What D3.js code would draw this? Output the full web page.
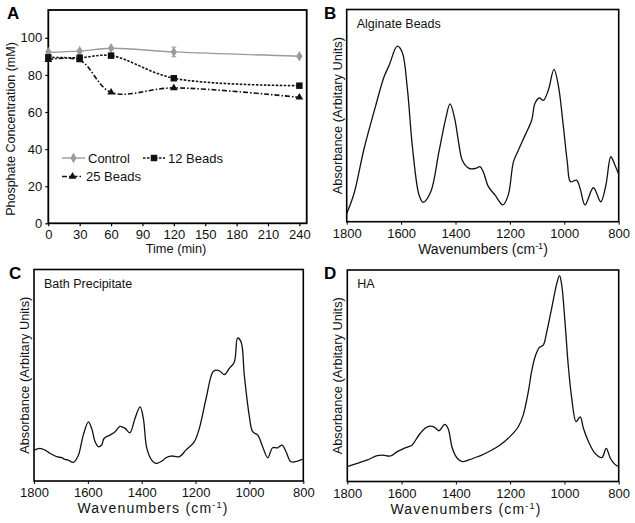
<!DOCTYPE html>
<html><head><meta charset="utf-8">
<script src="https://cdn.jsdelivr.net/npm/d3@7"></script>
<style>
body{margin:0;background:#fff;}
svg{display:block;font-family:"Liberation Sans",Arial,sans-serif;}
</style></head>
<body><svg id="c" width="635" height="523"></svg>
<script>
// ---------- Panel A data ----------
const timeMin = [0, 30, 60, 120, 240];
const controlConc = [92.2, 92.8, 94.4, 92.4, 90.1];
const controlErr = [1.0, 0.6, 0.5, 2.6, 0.5];
const beads12Conc = [89.5, 89.3, 90.4, 78.2, 74.2];
const beads25Conc = [88.2, 88.0, 70.6, 73.0, 67.9];
const timeTicks = [0, 30, 60, 90, 120, 150, 180, 210, 240];
const concTicks = [0, 20, 40, 60, 80, 100];
const seriesNames = ["Control", "12 Beads", "25 Beads"];

// ---------- Spectra (wavenumber, relative absorbance 0-100) ----------
const wnTicks = [1800, 1600, 1400, 1200, 1000, 800];
const alginateWn = [1800,1773,1736,1693,1663,1644,1614,1596,1577,1559,1534,1519,1491,1461,1436,1420,1403,1387,1375,1350,1326,1310,1298,1279,1255,1226,1206,1187,1169,1144,1120,1108,1092,1077,1059,1038,1022,1004,989,977,955,942,924,893,866,847,829,814,800];
const alginateAbs = [3.9,13.3,34.5,54.9,68.2,73.7,82.7,79.9,62.7,36.1,12.6,9.1,14.1,32.9,48.6,55.5,48.6,36.1,29.0,25.1,25.1,25.9,23.5,16.5,12.6,7.9,12.6,28.2,33.7,40.8,47.8,55.7,58.3,57.2,61.9,71.8,64.3,45.5,28.2,18.8,19.6,15.7,7.9,16.0,9.4,17.3,30.6,26.7,22.3];
const bathWn = [1800,1778,1759,1741,1716,1697,1685,1673,1654,1636,1617,1598,1586,1573,1561,1549,1540,1518,1499,1481,1462,1444,1425,1406,1394,1381,1363,1347,1320,1310,1291,1260,1236,1205,1186,1161,1136,1124,1109,1093,1075,1056,1044,1031,1019,1001,988,969,951,932,914,895,879,864,846,821,802];
const bathAbs = [14.6,15.4,14.6,13.1,11.5,11.0,10.2,9.9,8.8,11.9,21.7,28.0,24.9,18.5,16.2,17.0,20.1,21.7,23.3,25.8,24.9,22.8,29.6,35.0,29.6,15.4,9.9,8.3,9.9,11.0,11.8,11.5,14.6,18.5,24.9,39.0,51.6,52.4,51.9,50.3,53.2,56.3,67.6,65.7,50.0,31.1,23.3,21.7,16.2,11.0,15.7,15.7,17.0,13.8,9.1,9.4,10.4];
const haWn = [1800,1763,1726,1690,1671,1640,1616,1585,1561,1536,1511,1495,1478,1462,1441,1429,1413,1395,1376,1352,1321,1311,1274,1237,1201,1170,1152,1133,1121,1108,1093,1078,1065,1047,1028,1018,1010,998,986,973,957,942,930,911,887,862,846,831,814,800];
const haAbs = [7.0,8.6,10.2,12.2,12.5,12.1,14.1,16.0,17.3,22.0,25.4,26.2,25.6,24.0,27.0,25.2,15.7,11.0,9.4,10.2,11.7,12.1,14.4,17.3,21.2,25.9,31.4,42.5,51.9,59.0,63.3,64.5,70.8,81.9,93.7,97.3,92.9,75.6,55.1,39.3,28.3,30.6,25.2,18.8,13.3,11.3,15.7,11.0,8.1,7.0];

const svg = d3.select("#c");
const FONT = '"Liberation Sans",Arial,sans-serif';

// ================= Panel A =================
const xA = d3.scaleLinear().domain([0, 247]).range([48.3, 306.7]);
const yA = d3.scaleLinear().domain([0, 115]).range([223.3, 10]);
const gA = svg.append("g");

gA.append("g").attr("transform", `translate(0,${yA(0)})`)
  .call(d3.axisBottom(xA).tickValues(timeTicks).tickSize(3).tickPadding(3).tickFormat(d3.format("d")))
  .call(g => g.select(".domain").remove())
  .call(g => g.selectAll("text").attr("font-size", 13).attr("font-family", FONT).attr("fill", "#111"))
  .call(g => g.selectAll("line").attr("stroke", "#000").attr("stroke-width", 1.2));
gA.append("g").attr("transform", `translate(${xA(0)},0)`)
  .call(d3.axisLeft(yA).tickValues(concTicks).tickSize(3).tickPadding(3))
  .call(g => g.select(".domain").remove())
  .call(g => g.selectAll("text").attr("font-size", 13).attr("font-family", FONT).attr("fill", "#111"))
  .call(g => g.selectAll("line").attr("stroke", "#000").attr("stroke-width", 1.2));
gA.append("rect").attr("x", xA(0)).attr("y", yA(115)).attr("width", xA(247) - xA(0)).attr("height", yA(0) - yA(115))
  .attr("fill", "none").attr("stroke", "#000").attr("stroke-width", 1.8);

const lineA = d3.line().x(d => xA(d[0])).y(d => yA(d[1])).curve(d3.curveCatmullRom.alpha(0.5));
const zipA = arr => timeMin.map((t, i) => [t, arr[i]]);

// error bars (control)
gA.append("g").selectAll("g").data(zipA(controlConc)).join("g").each(function(d, i) {
  const g = d3.select(this), e = controlErr[i], x = xA(d[0]);
  g.append("line").attr("x1", x).attr("x2", x).attr("y1", yA(d[1] - e)).attr("y2", yA(d[1] + e)).attr("stroke", "#999").attr("stroke-width", 1);
  g.append("line").attr("x1", x - 2.5).attr("x2", x + 2.5).attr("y1", yA(d[1] - e)).attr("y2", yA(d[1] - e)).attr("stroke", "#999");
  g.append("line").attr("x1", x - 2.5).attr("x2", x + 2.5).attr("y1", yA(d[1] + e)).attr("y2", yA(d[1] + e)).attr("stroke", "#999");
});

const styles = [
  {data: controlConc, stroke: "#9a9a9a", dash: null, sym: d3.symbolDiamond, size: 32, fill: "#9a9a9a", w: 1.4},
  {data: beads12Conc, stroke: "#111", dash: "2.5,1.5", sym: d3.symbolSquare, size: 42, fill: "#111", w: 1.6},
  {data: beads25Conc, stroke: "#111", dash: "5,2,1.5,2", sym: d3.symbolTriangle, size: 26, fill: "#111", w: 1.6}
];
styles.forEach(s => {
  gA.append("path").attr("d", lineA(zipA(s.data))).attr("fill", "none").attr("stroke", s.stroke)
    .attr("stroke-width", s.w).attr("stroke-dasharray", s.dash);
  gA.append("g").selectAll("path").data(zipA(s.data)).join("path")
    .attr("transform", d => `translate(${xA(d[0])},${yA(d[1])})`)
    .attr("d", d3.symbol().type(s.sym).size(s.size)).attr("fill", s.fill);
});

// legend
const legPos = [[62, 158, 88], [143, 158, 168], [62, 176.5, 86]];
styles.forEach((s, i) => {
  const [x0, y0, tx] = legPos[i];
  const x1 = tx - 3;
  gA.append("line").attr("x1", x0).attr("x2", x1).attr("y1", y0).attr("y2", y0)
    .attr("stroke", s.stroke).attr("stroke-width", s.w).attr("stroke-dasharray", s.dash);
  gA.append("path").attr("transform", `translate(${(x0 + x1) / 2},${y0})`)
    .attr("d", d3.symbol().type(s.sym).size(s.size)).attr("fill", s.fill);
  gA.append("text").attr("x", tx).attr("y", y0 + 4.5).attr("font-size", 13).attr("fill", "#111").text(seriesNames[i]);
});

gA.append("text").attr("x", 176).attr("y", 253).attr("text-anchor", "middle").attr("font-size", 12.8).attr("fill", "#111").text("Time (min)");
gA.append("text").attr("transform", "translate(14.5,129) rotate(-90)").attr("text-anchor", "middle").attr("font-size", 12.5).attr("fill", "#111").text("Phosphate Concentration (mM)");
svg.append("text").attr("x", 7).attr("y", 19).attr("font-size", 17).attr("font-weight", "bold").text("A");

// ================= Spectra panels =================
function spectrum(cfg) {
  const x = d3.scaleLinear().domain([1800, 800]).range([cfg.left, cfg.right]);
  const y = d3.scaleLinear().domain([0, 100]).range([cfg.bottom, cfg.top]);
  const g = svg.append("g");
  g.append("g").attr("transform", `translate(0,${cfg.bottom})`)
    .call(d3.axisBottom(x).tickValues(wnTicks).tickSize(3).tickPadding(4).tickFormat(d3.format("d")))
    .call(a => a.select(".domain").remove())
    .call(a => a.selectAll("text").attr("font-size", 13).attr("font-family", FONT).attr("fill", "#111"))
    .call(a => a.selectAll("line").attr("stroke", "#000"));
  g.append("rect").attr("x", cfg.left).attr("y", cfg.top).attr("width", cfg.right - cfg.left).attr("height", cfg.bottom - cfg.top)
    .attr("fill", "none").attr("stroke", "#000").attr("stroke-width", 1.6);
  const pts = cfg.wn.map((w, i) => [w, cfg.abs[i]]);
  g.append("path").attr("d", d3.line().x(d => x(d[0])).y(d => y(d[1])).curve(d3.curveCatmullRom.alpha(0.5))(pts))
    .attr("fill", "none").attr("stroke", "#111").attr("stroke-width", 1.3);
  g.append("text").attr("x", cfg.left + 10).attr("y", cfg.top + 18).attr("font-size", 12.5).attr("fill", "#111").text(cfg.title);
  const t = g.append("text").attr("x", cfg.xtx).attr("y", cfg.bottom + 32).attr("text-anchor", "middle")
    .attr("font-size", 14).attr("letter-spacing", cfg.ls).attr("fill", "#111");
  t.append("tspan").text("Wavenumbers (cm");
  t.append("tspan").attr("font-size", 9).attr("dy", -5).text("-1");
  t.append("tspan").attr("dy", 5).text(")");
  g.append("text").attr("transform", `translate(${cfg.left - 5},${(cfg.top + cfg.bottom) / 2}) rotate(-90)`)
    .attr("text-anchor", "middle").attr("font-size", 12.8).attr("fill", "#111").text("Absorbance (Arbitary Units)");
  svg.append("text").attr("x", cfg.lx).attr("y", cfg.ly).attr("font-size", 17).attr("font-weight", "bold").text(cfg.letter);
}

spectrum({left: 346.7, right: 618.7, top: 9.5, bottom: 221.7, wn: alginateWn, abs: alginateAbs, title: "Alginate Beads", letter: "B", lx: 324, ly: 19, xtx: 483, ls: 0});
spectrum({left: 34, right: 303.3, top: 269.5, bottom: 481, wn: bathWn, abs: bathAbs, title: "Bath Precipitate", letter: "C", lx: 9, ly: 279, xtx: 153, ls: 1.2});
spectrum({left: 347.3, right: 618.7, top: 270, bottom: 481.5, wn: haWn, abs: haAbs, title: "HA", letter: "D", lx: 324, ly: 279, xtx: 466, ls: 1.2});
</script></body></html>
